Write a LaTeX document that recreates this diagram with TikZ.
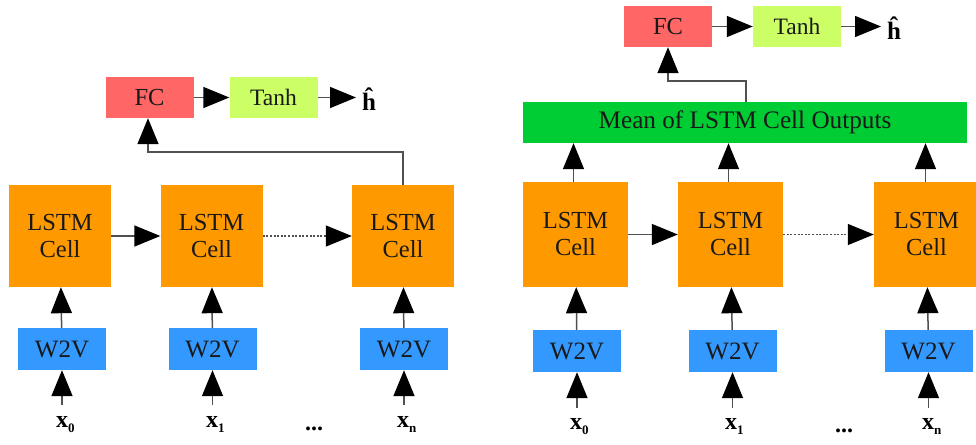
\documentclass[tikz,border=0pt]{standalone}
\usepackage{fontspec}
\setmainfont{Liberation Serif}
\usetikzlibrary{arrows.meta}
\definecolor{lstmc}{RGB}{255,153,0}
\definecolor{fcc}{RGB}{255,102,102}
\definecolor{tanhc}{RGB}{204,255,102}
\definecolor{w2vc}{RGB}{51,153,255}
\definecolor{meanc}{RGB}{0,204,51}
\definecolor{linec}{RGB}{80,80,80}
\newcommand{\xsub}[2]{x\raisebox{-5pt}{\fontsize{13}{13}\selectfont #2}}
\begin{document}
\begin{tikzpicture}[x=1pt,y=-1pt,
  box/.style={draw=none,inner sep=0pt,align=center,text=black!90},
  lstm/.style={box,fill=lstmc,minimum width=102pt,minimum height=102pt,font=\fontsize{24.5}{27}\selectfont},
  lstmr/.style={lstm,minimum width=105pt,minimum height=105pt},
  w2v/.style={box,fill=w2vc,minimum width=88pt,minimum height=42pt,font=\fontsize{25}{27}\selectfont},
  fc/.style={box,fill=fcc,minimum width=88pt,minimum height=41pt,font=\fontsize{24.5}{27}\selectfont},
  tanhbox/.style={box,fill=tanhc,minimum width=88pt,minimum height=41pt,font=\fontsize{23.5}{27}\selectfont},
  meanbox/.style={box,fill=meanc,minimum width=444pt,minimum height=41pt,font=\fontsize{25.2}{27}\selectfont},
  xlab/.style={inner sep=0pt,anchor=base west,font=\fontsize{24}{26}\selectfont\bfseries},
  hhat/.style={inner sep=0pt,anchor=west,font=\fontsize{25}{26}\selectfont\bfseries},
  arr/.style={-{Triangle[length=26pt,width=21pt,color=black]},line width=1.5pt,draw=linec},
  dotarr/.style={arr,line width=1.3pt,dash pattern=on 2pt off 1.6pt}
]
\useasboundingbox (0,0) rectangle (976,444);
\fill[white] (0,0) rectangle (976,444);

% ---------- left panel ----------
\node[lstm] (L1) at (60,236) {LSTM\\Cell};
\node[lstm] (L2) at (211.5,236) {LSTM\\Cell};
\node[lstm] (L3) at (403,236) {LSTM\\Cell};
\node[w2v] (W1) at (62,349) {W2V};
\node[w2v] (W2) at (212.5,349) {W2V};
\node[w2v] (W3) at (404,349) {W2V};
\node[fc] (F) at (149.5,97.5) {FC};
\node[tanhbox] (T) at (273.5,97.5) {Tanh};
\node[hhat] (H) at (362,99) {ĥ};
\node[xlab] (X0) at (56,427) {\xsub{x}{0}};
\node[xlab] (X1) at (206,427) {\xsub{x}{1}};
\node[xlab] (XD) at (305,430) {...};
\node[xlab] (XN) at (397,427) {\xsub{x}{n}};

\draw[arr] (L1) -- (L2);
\draw[dotarr] (L2) -- (L3);
\draw[arr] (W1) -- (L1);
\draw[arr] (W2) -- (L2);
\draw[arr] (W3) -- (L3);
\draw[arr] ([yshift=22pt]X0.base -| W1.south) -- (W1.south);
\draw[arr] ([yshift=22pt]X1.base -| W2.south) -- (W2.south);
\draw[arr] ([yshift=22pt]XN.base -| W3.south) -- (W3.south);
\draw[arr] (L3.north) -- ++(0,-33) -| ([xshift=-1.5pt]F.south);
\draw[arr] (F) -- (T);
\draw[arr] (T.east) -- ([xshift=-6pt]T.east -| H.west);

% ---------- right panel ----------
\node[lstmr] (R1) at (575.5,234.5) {LSTM\\Cell};
\node[lstmr] (R2) at (730.5,234.5) {LSTM\\Cell};
\node[lstmr] (R3) at (926.5,234.5) {LSTM\\Cell};
\node[w2v] (V1) at (577,351) {W2V};
\node[w2v] (V2) at (732.5,351) {W2V};
\node[w2v] (V3) at (928.5,351) {W2V};
\node[meanbox] (M) at (745,122.5) {Mean of LSTM Cell Outputs};
\node[fc] (F2) at (668,26.5) {FC};
\node[tanhbox] (T2) at (797,26.5) {Tanh};
\node[hhat] (H2) at (887,28) {ĥ};
\node[xlab] (Y0) at (570,429) {\xsub{x}{0}};
\node[xlab] (Y1) at (725,429) {\xsub{x}{1}};
\node[xlab] (YD) at (835,432) {...};
\node[xlab] (YN) at (922,429) {\xsub{x}{n}};

\draw[arr] (R1) -- (R2);
\draw[dotarr] (R2) -- (R3);
\draw[arr] (V1) -- (R1);
\draw[arr] (V2) -- (R2);
\draw[arr] (V3) -- (R3);
\draw[arr] ([yshift=21pt]Y0.base -| V1.south) -- (V1.south);
\draw[arr] ([yshift=21pt]Y1.base -| V2.south) -- (V2.south);
\draw[arr] ([yshift=21pt]YN.base -| V3.south) -- (V3.south);
\draw[arr] ([xshift=-2pt]R1.north) -- ([xshift=-2pt]R1.north |- M.south);
\draw[arr] ([xshift=-2pt]R2.north) -- ([xshift=-2pt]R2.north |- M.south);
\draw[arr] ([xshift=-1pt]R3.north) -- ([xshift=-1pt]R3.north |- M.south);
\draw[arr] ([xshift=1pt]M.north) -- ++(0,-21) -| (F2.south);
\draw[arr] (F2) -- (T2);
\draw[arr] (T2.east) -- ([xshift=-6pt]T2.east -| H2.west);
\end{tikzpicture}
\end{document}
